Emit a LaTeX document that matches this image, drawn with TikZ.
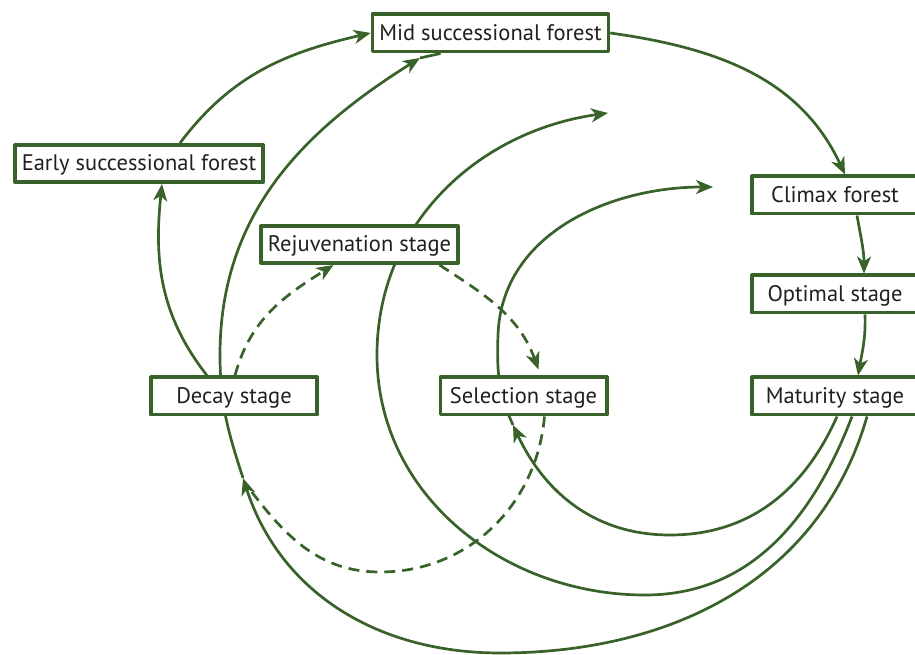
\documentclass[tikz,border=0pt]{standalone}
\usepackage{fontspec}
\setmainfont{PT Sans}
\usetikzlibrary{arrows.meta,backgrounds}
\definecolor{leaf}{RGB}{56,98,42}
\definecolor{ink}{RGB}{35,31,32}

\begin{document}
\begin{tikzpicture}[x=1pt,y=1pt,line join=round,
  stage/.style={draw=leaf,line width=3.6pt,fill=white,text=ink,
    inner xsep=6.7pt,inner ysep=0pt,minimum width=166.4pt,minimum height=37.4pt,
    text height=20pt,text depth=5pt,font=\fontsize{22.5}{27}\selectfont},
  link/.style={draw=leaf,line width=2.7pt},
  tip/.style={link,-{Stealth[length=17pt,width=14pt,inset=5pt]}},
  dashlink/.style={tip,dash pattern=on 11pt off 7pt}]
\useasboundingbox (0,0) rectangle (915,655);
\clip (0,0) rectangle (915,655);

\node[stage] (early) at (139,491.5) {Early successional forest};
\node[stage] (mid) at (490.5,622) {Mid successional forest};
\node[stage] (rejuv) at (359.5,410.5) {Rejuvenation stage};
\node[stage] (climax) at (835,460) {Climax forest};
\node[stage] (optimal) at (835,361) {Optimal stage};
\node[stage] (maturity) at (835,259) {Maturity stage};
\node[stage] (decay) at (234,259) {Decay stage};
\node[stage] (selection) at (523.5,259) {Selection stage};

\begin{scope}[on background layer]
% succession over the top
\draw[tip] ([xshift=41pt]early.north) to[out=53,in=193] (mid.west);
\draw[tip] ([xshift=-27pt]decay.north) to[out=128,in=-96] ([xshift=23pt]early.south);
\draw[tip] (mid.east) to[out=-8,in=115] ([xshift=10pt]climax.north);
\draw[tip] ([xshift=22pt]climax.south) to[out=-80,in=90] ([xshift=29pt]optimal.north);
\draw[tip] ([xshift=30pt]optimal.south) to[out=-88,in=80] ([xshift=23pt]maturity.north);

% outer loop: maturity -> decay -> mid
\coordinate (back) at (243,177);
\coordinate (rise) at (420,597);
\draw[tip] ([xshift=32pt]maturity.south) to[out=-106,in=0] (500,2) to[out=180,in=-72] (back);
\draw[tip] (back) to[out=108,in=-90] (220,300) to[out=90,in=212] (rise);
\draw[link] (rise) -- ([xshift=-50pt]mid.south);

% middle loop through rejuvenation
\coordinate (gapA) at (608,542);
\draw[tip] ([xshift=17pt]maturity.south) to[out=-111,in=0] (645,60) to[out=180,in=-90] (377,300) to[out=90,in=188] (gapA);

% inner loop through selection
\coordinate (turn) at (513,230);
\coordinate (gapB) at (713,468);
\draw[tip] ([xshift=2pt]maturity.south) to[out=-114,in=0] (670,120) to[out=180,in=-65] (turn);
\draw[tip] (turn) to[out=115,in=-92] (498,320) to[out=88,in=180] (gapB);

% small cycle, dashed
\draw[dashlink] ([xshift=1pt]decay.north) to[out=75,in=212] ([xshift=-26pt]rejuv.south);
\draw[dashlink] ([xshift=80pt]rejuv.south) to[out=-33,in=110] ([xshift=15pt,yshift=6pt]selection.north);
\draw[link,dash pattern=on 11pt off 7pt] ([xshift=21pt]selection.south) to[out=-95,in=0] (380,83) to[out=180,in=-53] (248,168);
\end{scope}
\end{tikzpicture}
\end{document}
